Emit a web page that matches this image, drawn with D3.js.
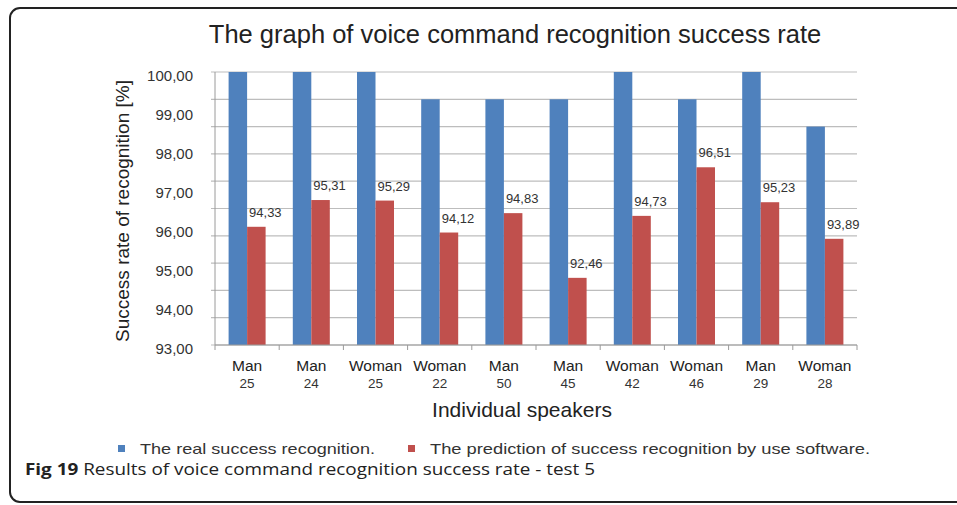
<!DOCTYPE html>
<html>
<head>
<meta charset="utf-8">
<script src="https://cdn.jsdelivr.net/npm/d3@7"></script>
<style>
	body { margin: 0; background: #fff; overflow: hidden; }
	svg { display: block; }
</style>
</head>
<body>
<svg id="chart" width="957" height="505"></svg>
<script>
var speakers = ['Man', 'Man', 'Woman', 'Woman', 'Man', 'Man', 'Woman', 'Woman', 'Man', 'Woman'];
var ages = ['25', '24', '25', '22', '50', '45', '42', '46', '29', '28'];
var realRate = [100, 100, 100, 99, 99, 99, 100, 99, 100, 98];
var predictedRate = [94.33, 95.31, 95.29, 94.12, 94.83, 92.46, 94.73, 96.51, 95.23, 93.89];
// tick labels as printed on the original (they do not line up with the grid)
var tickLabels = ['93,00', '94,00', '95,00', '96,00', '97,00', '98,00', '99,00', '100,00'];
var gridValues = d3.range(90, 101);

var sans = '"Liberation Sans", Arial, sans-serif';
var svg = d3.select('#chart').style('font-family', sans);
var margin = {top: 72, right: 100, bottom: 160, left: 215};
var width = 957 - margin.left - margin.right;
var height = 505 - margin.top - margin.bottom;

// frame with rounded corners on the left, runs off the right edge
svg.append('path')
	.attr('d', 'M1000,8 H20 A10,10 0 0 0 10,18 V492 A10,10 0 0 0 20,502 H1000')
	.attr('fill', 'none')
	.attr('stroke', '#222')
	.attr('stroke-width', 2);

svg.append('text')
	.attr('x', 515).attr('y', 43)
	.attr('text-anchor', 'middle')
	.attr('font-size', 25.5)
	.attr('fill', '#222')
	.text('The graph of voice command recognition success rate');

var g = svg.append('g').attr('transform', 'translate(' + margin.left + ',' + margin.top + ')');

var x = d3.scaleBand().domain(d3.range(speakers.length)).range([0, width]);
var y = d3.scaleLinear().domain([90, 100]).range([height, 0]);
var yLabel = d3.scalePoint().domain(tickLabels).range([height, 0]);

// grid
g.selectAll('.grid')
	.data(gridValues).enter()
	.append('line')
	.attr('class', 'grid')
	.attr('x1', -4).attr('x2', width)
	.attr('y1', function(d) { return y(d); })
	.attr('y2', function(d) { return y(d); })
	.attr('stroke', '#bdbdbd')
	.attr('stroke-width', 1.2);

g.append('line')
	.attr('x1', 0).attr('x2', 0)
	.attr('y1', 0).attr('y2', height)
	.attr('stroke', '#9a9a9a');

// y tick labels
g.selectAll('.ylab')
	.data(tickLabels).enter()
	.append('text')
	.attr('class', 'ylab')
	.attr('x', -22)
	.attr('y', function(d) { return yLabel(d); })
	.attr('dy', '0.6em')
	.attr('text-anchor', 'end')
	.attr('font-size', 15)
	.attr('fill', '#333')
	.text(function(d) { return d; });

var barW = 18.5;

g.selectAll('.real')
	.data(realRate).enter()
	.append('rect')
	.attr('class', 'real')
	.attr('x', function(d, i) { return x(i) + x.bandwidth() / 2 - barW; })
	.attr('y', function(d) { return y(d); })
	.attr('width', barW)
	.attr('height', function(d) { return height - y(d); })
	.attr('fill', '#4f81bd');

g.selectAll('.pred')
	.data(predictedRate).enter()
	.append('rect')
	.attr('class', 'pred')
	.attr('x', function(d, i) { return x(i) + x.bandwidth() / 2; })
	.attr('y', function(d) { return y(d); })
	.attr('width', barW)
	.attr('height', function(d) { return height - y(d); })
	.attr('fill', '#c0504d');

g.selectAll('.val')
	.data(predictedRate).enter()
	.append('text')
	.attr('class', 'val')
	.attr('x', function(d, i) { return x(i) + x.bandwidth() / 2 + barW / 2 + 9; })
	.attr('y', function(d) { return y(d) - 10; })
	.attr('text-anchor', 'middle')
	.attr('font-size', 13)
	.attr('fill', '#333')
	.text(function(d) { return d.toFixed(2).replace('.', ','); });

// x axis
var xAxis = g.append('g').attr('transform', 'translate(0,' + height + ')');
xAxis.append('line')
	.attr('x1', 0).attr('x2', width)
	.attr('stroke', '#9a9a9a').attr('stroke-width', 1.2);
xAxis.selectAll('.tick')
	.data(d3.range(speakers.length + 1)).enter()
	.append('line')
	.attr('x1', function(d) { return d * x.step(); })
	.attr('x2', function(d) { return d * x.step(); })
	.attr('y1', 0).attr('y2', 5)
	.attr('stroke', '#9a9a9a');

xAxis.selectAll('.spk')
	.data(speakers).enter()
	.append('text')
	.attr('x', function(d, i) { return x(i) + x.bandwidth() / 2; })
	.attr('y', 26)
	.attr('text-anchor', 'middle')
	.attr('font-size', 15.5)
	.attr('fill', '#222')
	.text(function(d) { return d; });

xAxis.selectAll('.age')
	.data(ages).enter()
	.append('text')
	.attr('x', function(d, i) { return x(i) + x.bandwidth() / 2; })
	.attr('y', 43)
	.attr('text-anchor', 'middle')
	.attr('font-size', 13.5)
	.attr('fill', '#333')
	.text(function(d) { return d; });

svg.append('text')
	.attr('x', 522).attr('y', 417)
	.attr('text-anchor', 'middle')
	.attr('font-size', 21)
	.attr('fill', '#222')
	.text('Individual speakers');

svg.append('text')
	.attr('transform', 'translate(129,' + 211 + ') rotate(-90)')
	.attr('text-anchor', 'middle')
	.attr('font-size', 19)
	.attr('fill', '#222')
	.text('Success rate of recognition [%]');

// legend (the original font is wide, so stretch to its width)
var legend = [
	{label: 'The real success recognition.', color: '#4f81bd', x: 118, w: 235},
	{label: 'The prediction of success recognition by use software.', color: '#c0504d', x: 408, w: 440}
];
var lg = svg.selectAll('.legend').data(legend).enter().append('g')
	.attr('transform', function(d) { return 'translate(' + d.x + ',445)'; });
lg.append('rect').attr('width', 7).attr('height', 7).attr('fill', function(d) { return d.color; });
lg.append('text')
	.attr('x', 22).attr('y', 9)
	.attr('font-size', 15)
	.attr('textLength', function(d) { return d.w; })
	.attr('lengthAdjust', 'spacingAndGlyphs')
	.attr('fill', '#333')
	.text(function(d) { return d.label; });

// caption
var cap = svg.append('text')
	.attr('x', 25).attr('y', 475)
	.style('font-family', '"Open Sans", sans-serif')
	.attr('font-size', 16.5)
	.attr('textLength', 570)
	.attr('lengthAdjust', 'spacingAndGlyphs')
	.attr('fill', '#222');
cap.append('tspan').attr('font-weight', 'bold').text('Fig 19');
cap.append('tspan').text(' Results of voice command recognition success rate - test 5');
</script>
</body>
</html>
